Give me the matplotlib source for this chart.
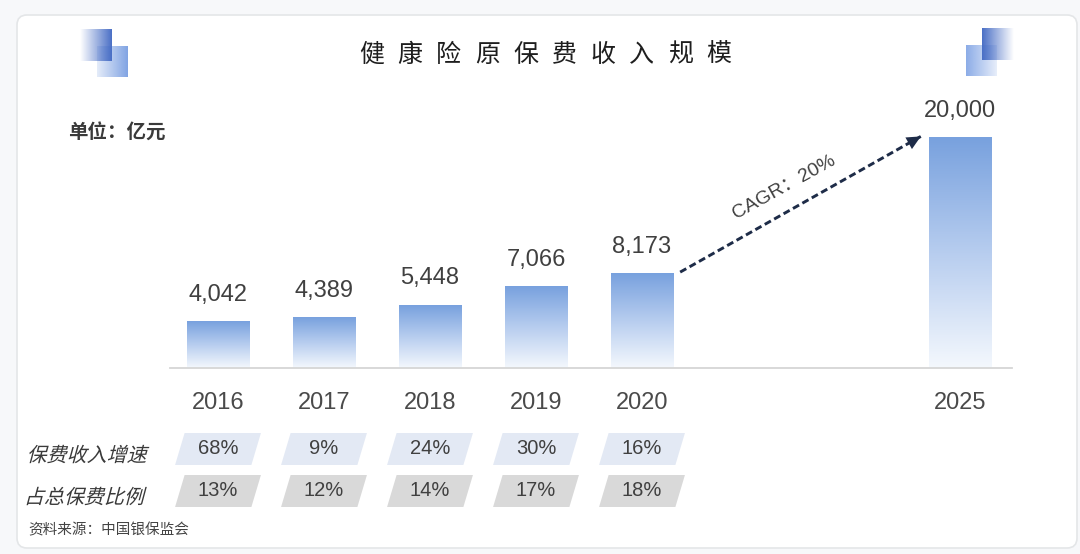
import numpy as np
import matplotlib
matplotlib.use('Agg')
import matplotlib.pyplot as plt
from matplotlib.patches import Polygon, FancyBboxPatch, PathPatch
from matplotlib.textpath import TextPath
from matplotlib.font_manager import FontProperties
from matplotlib.transforms import Affine2D, blended_transform_factory
from matplotlib.colors import LinearSegmentedColormap, to_rgb

plt.rcParams['font.family'] = ['Liberation Sans', 'Noto Sans CJK SC']

title = '健康险原保费收入规模'
unit_label = '单位：亿元'
source_label = '资料来源：中国银保监会'
years = ['2016', '2017', '2018', '2019', '2020', '2025']
slots = [0, 1, 2, 3, 4, 7]
premium = [4042, 4389, 5448, 7066, 8173, 20000]
row_names = ['保费收入增速', '占总保费比例']
growth = ['68%', '9%', '24%', '30%', '16%']
share = ['13%', '12%', '14%', '17%', '18%']
cagr_label = 'CAGR：20%'

CJK = 'Noto Sans CJK SC'
TEXT = '#404040'

fig = plt.figure(figsize=(10.8, 5.54), dpi=100, facecolor='#f7f8fa')

# full-figure layer in pixel units (y grows downward)
bg = fig.add_axes([0, 0, 1, 1], zorder=0)
bg.set_autoscale_on(False)
bg.set_xlim(0, 1080)
bg.set_ylim(554, 0)
bg.axis('off')

card = FancyBboxPatch((17, 15), 1060, 533, boxstyle='round,pad=0,rounding_size=10',
                      fc='white', ec='#e4e6e8', lw=1.2)
bg.add_patch(card)


def gradient_square(x0, y0, size, color, a_left, a_right):
    rgba = np.zeros((2, 64, 4))
    rgba[..., :3] = to_rgb(color)
    rgba[..., 3] = np.linspace(a_left, a_right, 64)
    bg.imshow(rgba, extent=(x0, x0 + size, y0 + size, y0), aspect='auto',
              interpolation='bilinear', zorder=2)


# corner ornaments
gradient_square(97, 46, 31, '#7a9fe2', 0.2, 0.95)
gradient_square(80, 29, 32, '#4a6fc6', 0.0, 1.0)
gradient_square(966, 45, 31, '#86a8e6', 0.95, 0.2)
gradient_square(982, 28, 32, '#4a6fc6', 1.0, 0.0)

for i, ch in enumerate(title):
    bg.text(371.5 + i * 38.6, 55, ch, ha='center', va='center', fontsize=18,
            color='#1e1e1e', family=CJK)

bg.text(68, 133, unit_label, ha='left', va='center', fontsize=14,
        color='#3a3a3a', family=CJK, fontweight='bold')
bg.text(28, 530, source_label, ha='left', va='center', fontsize=10.5,
        color='#444444', family=CJK)

# bars
ax = fig.add_axes([170 / 1080, 1 - 368 / 554, 842 / 1080, 268 / 554], zorder=1)
ax.patch.set_alpha(0)
bars = ax.bar(slots, premium, width=0.585, color='none', edgecolor='none')
cmap = LinearSegmentedColormap.from_list('fade', ['#f4f8fd', '#b7cdef', '#78a1de'])
grad = np.linspace(0, 1, 256).reshape(-1, 1)
for bar in bars:
    x0 = bar.get_x()
    ax.imshow(grad, extent=(x0, x0 + bar.get_width(), 0, bar.get_height()),
              origin='lower', aspect='auto', cmap=cmap, zorder=2)

for x, v in zip(slots, premium):
    ax.annotate(f'{v:,}', (x, v), xytext=(0, 15), textcoords='offset points',
                ha='center', va='baseline', fontsize=17, color=TEXT)

ax.set_xlim(-48 / 106, 794 / 106)
ax.set_ylim(0, 268 * 86.8)
for side in ('top', 'right', 'left'):
    ax.spines[side].set_visible(False)
ax.spines['bottom'].set_color('#d6d6d6')
ax.spines['bottom'].set_linewidth(1.3)
ax.set_yticks([])
ax.set_xticks(slots, years)
ax.tick_params(axis='x', length=0, pad=17, labelsize=17, labelcolor='#4a4a4a')

# CAGR arrow from 2020 to 2025
start = (slots[4] + 0.36, premium[4] + 150)
end = (slots[5] - 0.37, premium[5] + 100)
ax.plot([start[0], end[0]], [start[1], end[1]], color='#1e2c48', lw=2.1,
        dashes=(2.4, 1.3), solid_capstyle='butt', zorder=3)
back = (end[0] - 0.1 * (end[0] - start[0]), end[1] - 0.1 * (end[1] - start[1]))
ax.annotate('', xy=end, xytext=back,
            arrowprops=dict(arrowstyle='-|>,head_length=0.5,head_width=0.24',
                            mutation_scale=20, color='#1e2c48', lw=0, shrinkA=0, shrinkB=0))
mid = ((start[0] + end[0]) / 2, (start[1] + end[1]) / 2)
ax.annotate(cagr_label, mid, xytext=(-12, 12), textcoords='offset points',
            rotation=29, rotation_mode='anchor', ha='center', va='center',
            fontsize=14, color=TEXT)

# growth / share table under the axis
trans = blended_transform_factory(ax.transData, bg.transData)
box_w, box_h, slant = 0.72, 32, 0.09
for row, (name, vals, fc, yc) in enumerate(zip(row_names, [growth, share],
                                                ['#e3e9f4', '#d9d9d9'], [449, 491])):
    for x, s in zip(slots, vals):
        pts = [(x - box_w / 2 - slant / 2, yc + box_h / 2),
               (x + box_w / 2 - slant / 2, yc + box_h / 2),
               (x + box_w / 2 + slant / 2, yc - box_h / 2),
               (x - box_w / 2 + slant / 2, yc - box_h / 2)]
        bg.add_patch(Polygon(pts, closed=True, fc=fc, ec='none', transform=trans))
        bg.text(x, yc, s, transform=trans, ha='center', va='center',
                fontsize=14.5, color=TEXT)
    # slanted row caption
    tp = TextPath((0, 0), name, size=20, prop=FontProperties(family=CJK))
    bb = tp.get_extents()
    tr = (Affine2D().translate(-bb.x0, -(bb.y0 + bb.y1) / 2).skew_deg(15, 0)
          .scale(1, -1).translate(29, yc + 5))
    bg.add_patch(PathPatch(tp, transform=tr + bg.transData, fc='#3a3a3a', ec='none'))

fig.savefig('out.png', dpi=100, facecolor=fig.get_facecolor())
